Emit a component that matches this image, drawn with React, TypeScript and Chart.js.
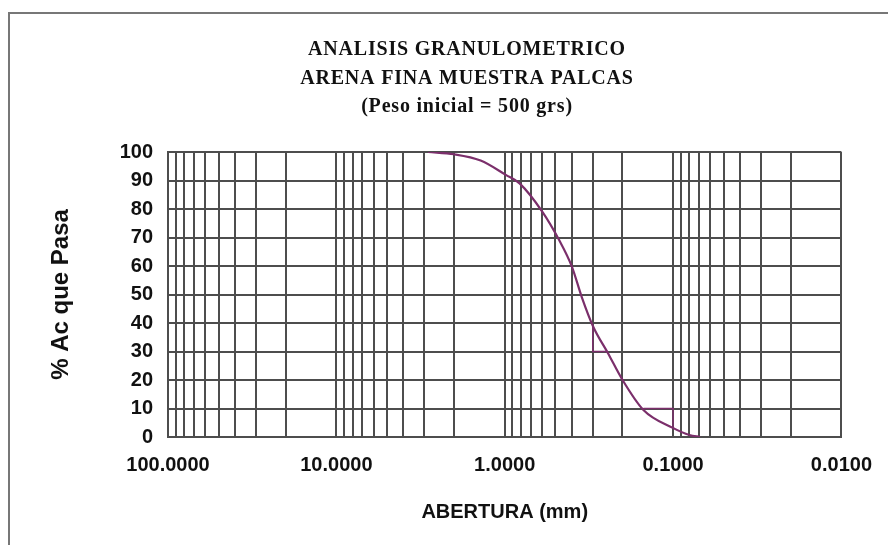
import React, { useEffect, useRef } from "react";
import { Chart, registerables } from "chart.js";

Chart.register(...registerables);

// Curva granulométrica (abertura en mm, % acumulado que pasa)
const aberturaMm = [2.85, 2.0, 1.39, 0.98, 0.816, 0.597, 0.475, 0.399, 0.349, 0.298, 0.244, 0.1995, 0.15, 0.1003, 0.08, 0.069];
const pasaPct = [100, 99.2, 97, 91.9, 89, 79, 69.1, 59.8, 49.2, 38.7, 29.5, 20, 9.5, 3.2, 0.7, 0];

// Trazos auxiliares morados
const aux1Mm = [0.3, 0.3, 0.244];
const aux1Pct = [38.7, 30, 30];
const aux2Mm = [0.15, 0.1, 0.1];
const aux2Pct = [10, 10, 3.2];

// Ejes
const xMajorTicks = [100, 10, 1, 0.1, 0.01];
const xMinorMultipliers = [9, 8, 7, 6, 5, 4, 3, 2];
const yTickStep = 10;
const yMin = 0;
const yMax = 100;

const titleLines = ["ANALISIS GRANULOMETRICO", "ARENA FINA MUESTRA PALCAS", "(Peso inicial = 500 grs)"];
const xAxisTitle = "ABERTURA (mm)";
const yAxisTitle = "% Ac que Pasa";

function buildXGrid(): number[] {
  const vals: number[] = [];
  for (let i = 0; i < xMajorTicks.length; i++) {
    const m = xMajorTicks[i];
    vals.push(m);
    if (i < xMajorTicks.length - 1) {
      const base = xMajorTicks[i + 1];
      xMinorMultipliers.forEach((k) => vals.push(parseFloat((base * k).toPrecision(6))));
    }
  }
  return vals;
}

const titlePlugin = {
  id: "tituloSuperior",
  afterDraw(chart: any) {
    const ctx = chart.ctx;
    ctx.save();
    ctx.font = 'bold 20px "Liberation Serif"';
    ctx.fillStyle = "#111";
    ctx.textAlign = "center";
    ctx.textBaseline = "middle";
    try { (ctx as any).letterSpacing = "0.8px"; } catch (e) {}
    titleLines.forEach((t, i) => ctx.fillText(t, 467, 50 + i * 28.5));
    ctx.restore();
  },
};

export default function App() {
  const canvasRef = useRef<HTMLCanvasElement | null>(null);

  useEffect(() => {
    if (!canvasRef.current) return;
    const gridColor = "#4d4d4d";
    const purple = "#7b2f6b";
    const xGrid = buildXGrid();
    const chart = new Chart(canvasRef.current, {
      type: "line",
      data: {
        datasets: [
          {
            label: "% Ac que Pasa",
            data: aberturaMm.map((x, i) => ({ x, y: pasaPct[i] })),
            borderColor: purple,
            borderWidth: 2.2,
            pointRadius: 0,
            cubicInterpolationMode: "monotone",
            fill: false,
          },
          {
            label: "aux1",
            data: aux1Mm.map((x, i) => ({ x, y: aux1Pct[i] })),
            borderColor: purple,
            borderWidth: 1.5,
            pointRadius: 0,
            tension: 0,
            fill: false,
          },
          {
            label: "aux2",
            data: aux2Mm.map((x, i) => ({ x, y: aux2Pct[i] })),
            borderColor: purple,
            borderWidth: 1.5,
            pointRadius: 0,
            tension: 0,
            fill: false,
          },
        ],
      },
      options: {
        responsive: false,
        animation: false,
        layout: { padding: { left: 0, top: 152, right: 33, bottom: 0 } },
        plugins: { legend: { display: false }, tooltip: { enabled: false }, title: { display: false } },
        scales: {
          x: {
            type: "logarithmic",
            reverse: true,
            min: 0.01,
            max: 100,
            afterBuildTicks: (scale: any) => {
              scale.ticks = xGrid.map((v) => ({ value: v }));
            },
            afterFit: (scale: any) => {
              scale.height = 108;
            },
            grid: { color: gridColor, lineWidth: 2, drawTicks: false },
            border: { color: gridColor, width: 2 },
            ticks: {
              autoSkip: false,
              maxRotation: 0,
              padding: 16,
              color: "#111",
              font: { family: "Liberation Sans", size: 20, weight: "bold" },
              callback: (v: any) => (xMajorTicks.includes(Number(v)) ? Number(v).toFixed(4) : ""),
            },
            title: {
              display: true,
              text: xAxisTitle,
              color: "#111",
              font: { family: "Liberation Sans", size: 20, weight: "bold" },
              padding: { top: 0, bottom: 21 },
            },
          },
          y: {
            type: "linear",
            min: yMin,
            max: yMax,
            afterFit: (scale: any) => {
              scale.width = 168;
            },
            grid: { color: gridColor, lineWidth: 2, drawTicks: false },
            border: { color: gridColor, width: 2 },
            ticks: {
              stepSize: yTickStep,
              padding: 15,
              color: "#111",
              font: { family: "Liberation Sans", size: 20, weight: "bold" },
            },
            title: {
              display: true,
              text: yAxisTitle,
              color: "#111",
              font: { family: "Liberation Sans", size: 24, weight: "bold" },
              padding: { top: 47, bottom: 0 },
            },
          },
        },
      },
      plugins: [titlePlugin],
    } as any);
    return () => chart.destroy();
  }, []);

  return (
    <div style={{ position: "fixed", left: 0, top: 0, width: 888, height: 545, overflow: "hidden", background: "#fff" }}>
      <div
        style={{
          position: "absolute",
          left: 8,
          top: 12,
          width: 900,
          height: 560,
          borderLeft: "2px solid #777",
          borderTop: "2px solid #777",
        }}
      />
      <canvas ref={canvasRef} width={888} height={545} style={{ position: "absolute", left: 0, top: 0, width: 888, height: 545 }} />
    </div>
  );
}
